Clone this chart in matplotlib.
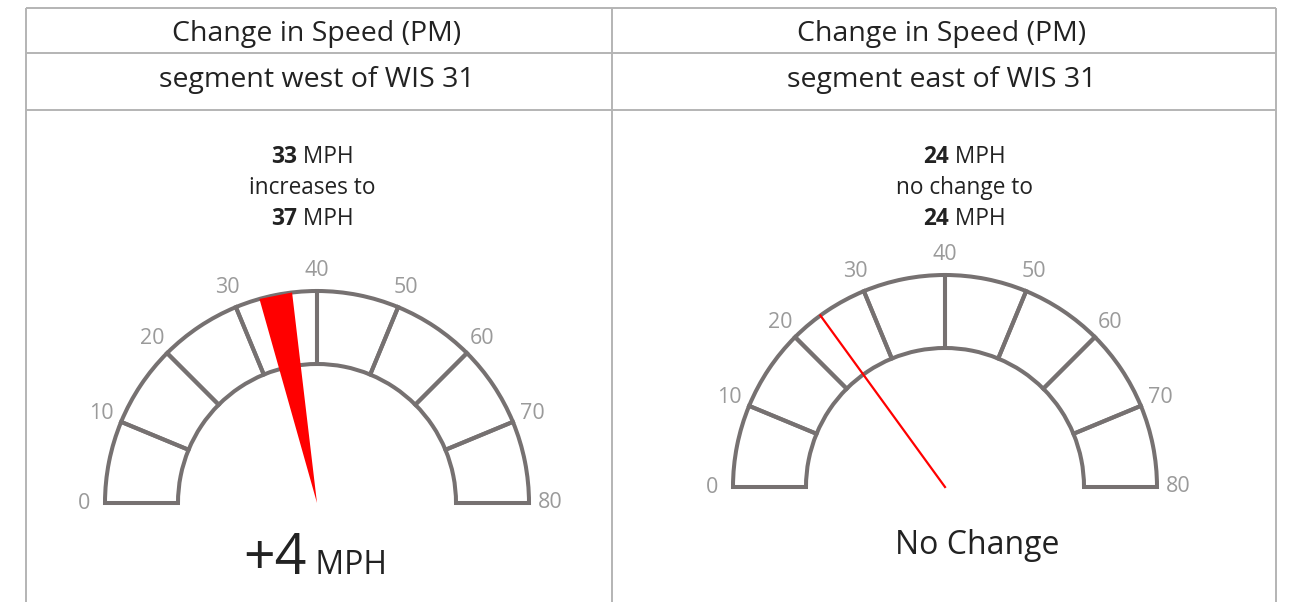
import numpy as np
import matplotlib
matplotlib.use("Agg")
import matplotlib.pyplot as plt
from matplotlib.patches import Wedge, Polygon
from matplotlib.offsetbox import TextArea, HPacker, AnnotationBbox

# datos de los dos paneles
titulos = ["Change in Speed (PM)", "Change in Speed (PM)"]
segmentos = ["segment west of WIS 31", "segment east of WIS 31"]
velocidad_antes = [33, 24]
velocidad_despues = [37, 24]
verbos = ["increases to", "no change to"]
marcas = [0, 10, 20, 30, 40, 50, 60, 70, 80]

FUENTE = "Open Sans"
GRIS_LINEA = "#767171"
GRIS_TEXTO = "#9a9a9a"
NEGRO = "#222222"
ROJO = "#ff0000"

plt.rcParams["font.family"] = [FUENTE, "DejaVu Sans"]

fig = plt.figure(figsize=(12.94, 6.02), dpi=100)
ax = fig.add_axes([0, 0, 1, 1])
ax.set_xlim(0, 1294)
ax.set_ylim(602, 0)
ax.axis("off")

# tabla
col_x = [26, 612, 1276]
fila_y = [8, 53, 110]
for x in col_x:
    ax.plot([x, x], [8, 602], color="#b4b4b4", lw=1.4, solid_capstyle="butt")
for y in fila_y:
    ax.plot([col_x[0], col_x[-1]], [y, y], color="#b4b4b4", lw=1.4, solid_capstyle="butt")

centros = [(317, 503), (945, 487)]
texto_x = [312, 964]
resultado_pos = [(315, 560), (977, 546)]
R_EXT, R_INT = 212, 139
R_ETIQ = 233


def angulo(v):
    # 0 a la izquierda, 80 a la derecha (eje y invertido)
    return 180 + v / marcas[-1] * 180


def texto_mixto(x, y, partes):
    hijos = [TextArea(t, textprops=p) for t, p in partes]
    caja = HPacker(children=hijos, align="baseline", pad=0, sep=0)
    ab = AnnotationBbox(caja, (x, y), xycoords="data", frameon=False,
                        box_alignment=(0.5, 0.5), pad=0)
    ax.add_artist(ab)


for i in range(2):
    cx_col = (col_x[i] + col_x[i + 1]) / 2
    ax.text(cx_col - 2, 34, titulos[i], ha="center", va="center", fontsize=20.5, color=NEGRO)
    ax.text(cx_col - 2, 80, segmentos[i], ha="center", va="center", fontsize=20.5, color=NEGRO)

    cx, cy = centros[i]
    # segmentos del velocimetro
    for a, b in zip(marcas[:-1], marcas[1:]):
        ax.add_patch(Wedge((cx, cy), R_EXT, angulo(a), angulo(b), width=R_EXT - R_INT,
                           facecolor="none", edgecolor=GRIS_LINEA, lw=2.9, joinstyle="miter"))
    for v in marcas:
        t = np.deg2rad(angulo(v))
        ax.text(cx + R_ETIQ * np.cos(t), cy + R_ETIQ * np.sin(t), str(v),
                ha="center", va="center", fontsize=15.5, color=GRIS_TEXTO)

    antes, despues = velocidad_antes[i], velocidad_despues[i]
    if antes == despues:
        t = np.deg2rad(angulo(antes))
        ax.plot([cx, cx + R_EXT * np.cos(t)], [cy, cy + R_EXT * np.sin(t)],
                color=ROJO, lw=1.6)
    else:
        t1, t2 = np.deg2rad(angulo(antes)), np.deg2rad(angulo(despues))
        pts = [(cx, cy), (cx + R_EXT * np.cos(t1), cy + R_EXT * np.sin(t1)),
               (cx + R_EXT * np.cos(t2), cy + R_EXT * np.sin(t2))]
        ax.add_patch(Polygon(pts, closed=True, facecolor=ROJO, edgecolor="none", zorder=3))

    normal = dict(fontsize=16.3, color=NEGRO, family=[FUENTE, "DejaVu Sans"])
    negrita = dict(fontsize=16.3, color=NEGRO, fontweight="bold", family=[FUENTE, "DejaVu Sans"])
    tx = texto_x[i]
    texto_mixto(tx, 157, [(str(antes), negrita), (" MPH", normal)])
    ax.text(tx, 188, verbos[i], ha="center", va="center", fontsize=16.3, color=NEGRO)
    texto_mixto(tx, 219, [(str(despues), negrita), (" MPH", normal)])

    rx, ry = resultado_pos[i]
    dif = despues - antes
    if dif == 0:
        ax.text(rx, ry, "No Change", ha="center", va="center", fontsize=23, color=NEGRO)
    else:
        grande = dict(fontsize=40, color=NEGRO, family=[FUENTE, "DejaVu Sans"])
        chico = dict(fontsize=23, color=NEGRO, family=[FUENTE, "DejaVu Sans"])
        texto_mixto(rx, ry, [(f"{dif:+d}", grande), (" MPH", chico)])

fig.savefig("out.png", dpi=100)
